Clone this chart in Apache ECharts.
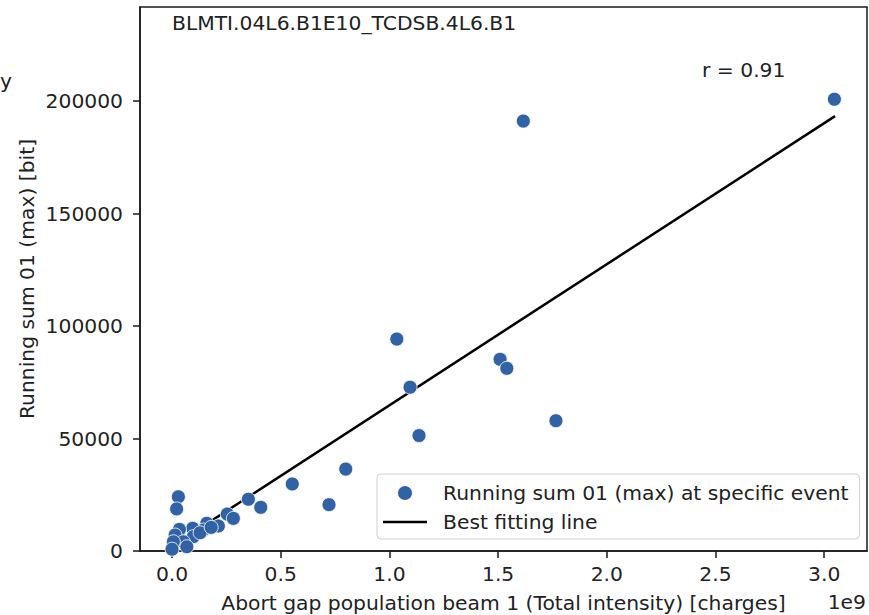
<!DOCTYPE html>
<html>
<head>
<meta charset="utf-8">
<script src="https://cdn.jsdelivr.net/npm/echarts@6/dist/echarts.min.js"></script>
<style>
html,body{margin:0;padding:0;background:#fff;}
#chart{width:869px;height:615px;}
</style>
</head>
<body>
<div id="chart"></div>
<script>
// Abort gap population (units of 1e9 charges)
const xValues = [3.047, 1.616, 1.034, 1.509, 1.540, 1.095, 1.766, 1.136, 0.799, 0.553,
  0.722, 0.351, 0.408, 0.029, 0.021, 0.254, 0.282, 0.213, 0.160, 0.144,
  0.095, 0.098, 0.034, 0.014, 0.052, 0.006, 0.000, 0.068, 0.129, 0.180];
// Running sum 01 (max) [bit]
const yValues = [200800, 191100, 94200, 85200, 81200, 72800, 57900, 51300, 36400, 29800,
  20600, 23000, 19400, 24100, 18700, 16400, 14500, 11100, 12300, 9300,
  10100, 6400, 9600, 7100, 4100, 4100, 800, 1900, 8100, 10500];
const fitX = [0, 3.05];
const fitY = [2070, 193300];
const xTicks = [0, 0.5, 1.0, 1.5, 2.0, 2.5, 3.0];
const yTicks = [0, 50000, 100000, 150000, 200000];
const titleText = 'BLMTI.04L6.B1E10_TCDSB.4L6.B1';
const rText = 'r = 0.91';
const xLabel = 'Abort gap population beam 1 (Total intensity) [charges]';
const yLabel = 'Running sum 01 (max) [bit]';
const scatterName = 'Running sum 01 (max) at specific event';
const lineName = 'Best fitting line';

const FONT = 'DejaVu Sans';
const FS = 20.3;
const TXT = '#222';
const F = FS + 'px "' + FONT + '"';

const chart = echarts.init(document.getElementById('chart'), null, {renderer: 'svg'});
const scatterData = xValues.map((x, i) => [x, yValues[i]]);
const lineData = fitX.map((x, i) => [x, fitY[i]]);

chart.setOption({
  animation: false,
  backgroundColor: '#fff',
  grid: {left: 140, right: 2, top: 7, bottom: 64, show: true, borderColor: '#1a1a1a', borderWidth: 1.5, backgroundColor: 'transparent'},
  xAxis: {
    type: 'value', min: -0.1475, max: 3.197,
    splitLine: {show: false},
    axisLine: {show: true, onZero: false, lineStyle: {color: '#1a1a1a', width: 1.5}},
    axisTick: {show: true, inside: false, length: 7, lineStyle: {color: '#1a1a1a', width: 1.5}, customValues: xTicks},
    axisLabel: {customValues: xTicks, formatter: v => v.toFixed(1), fontFamily: FONT, fontSize: FS, color: TXT, margin: 13}
  },
  yAxis: {
    type: 'value', min: 0, max: 241800,
    splitLine: {show: false},
    axisLine: {show: true, onZero: false, lineStyle: {color: '#1a1a1a', width: 1.5}},
    axisTick: {show: true, inside: false, length: 7, lineStyle: {color: '#1a1a1a', width: 1.5}, customValues: yTicks},
    axisLabel: {customValues: yTicks, formatter: v => String(v), fontFamily: FONT, fontSize: FS, color: TXT, margin: 17}
  },
  legend: {
    orient: 'vertical', left: 377, top: 474,
    data: [
      {name: scatterName, icon: 'circle'},
      {name: lineName, icon: 'path://M0,0H44V2.5H0Z', itemStyle: {color: '#000'}}
    ],
    itemWidth: 44, itemHeight: 16, itemGap: 7,
    padding: [8, 11, 6, 6],
    backgroundColor: 'rgba(255,255,255,0.85)', borderColor: '#d0d0d0', borderWidth: 1, borderRadius: 4,
    textStyle: {fontFamily: FONT, fontSize: FS, color: TXT, lineHeight: 22, padding: [0, 0, 0, 11]}
  },
  series: [
    {name: lineName, type: 'line', data: lineData, symbol: 'none', z: 2,
     lineStyle: {color: '#000', width: 2.5}, itemStyle: {color: '#000'}},
    {name: scatterName, type: 'scatter', data: scatterData, symbolSize: 14, z: 3,
     itemStyle: {color: '#3262a6', opacity: 1, borderColor: '#fff', borderWidth: 0.8}}
  ],
  graphic: [
    {type: 'text', x: 172, y: 23, style: {text: titleText, font: F, fill: TXT, textAlign: 'left', textVerticalAlign: 'middle'}},
    {type: 'text', x: 702, y: 70, style: {text: rText, font: F, fill: TXT, textAlign: 'left', textVerticalAlign: 'middle'}},
    {type: 'text', x: 503.5, y: 603, style: {text: xLabel, font: F, fill: TXT, textAlign: 'center', textVerticalAlign: 'middle'}},
    {type: 'text', x: 866, y: 602, style: {text: '1e9', font: F, fill: TXT, textAlign: 'right', textVerticalAlign: 'middle'}},
    {type: 'text', x: 27, y: 279, rotation: Math.PI / 2, style: {text: yLabel, font: F, fill: TXT, textAlign: 'center', textVerticalAlign: 'middle'}},
    {type: 'text', x: 0, y: 81, style: {text: 'y', font: F, fill: TXT, textAlign: 'left', textVerticalAlign: 'middle'}}
  ]
});
</script>
</body>
</html>
